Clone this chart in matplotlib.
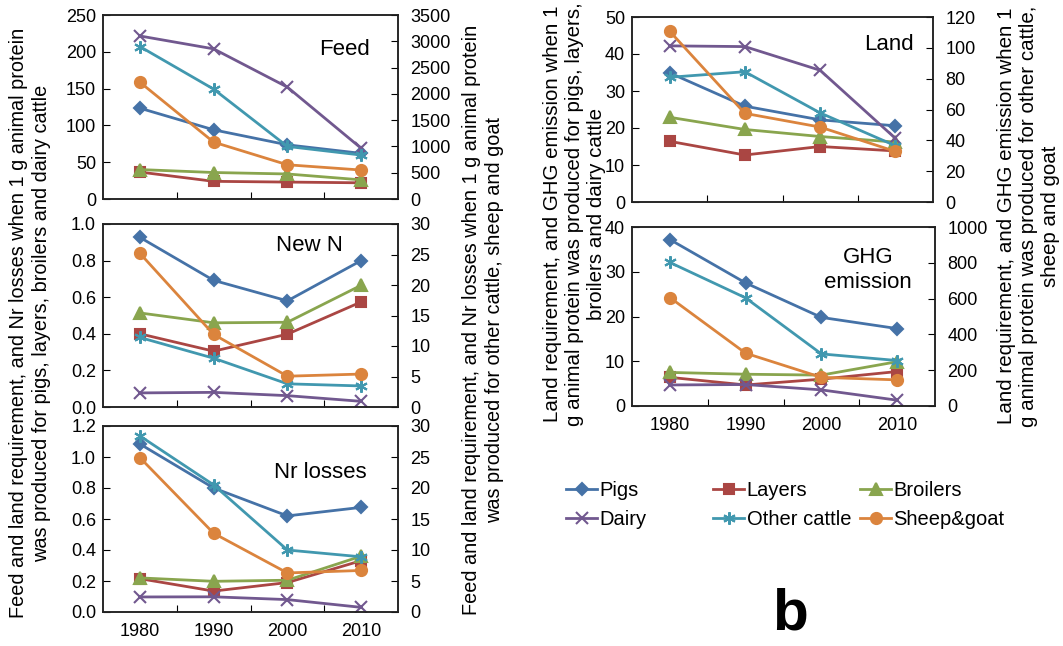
import matplotlib
matplotlib.use("Agg")
import matplotlib.pyplot as plt

plt.rcParams['font.family'] = ['Liberation Sans', 'DejaVu Sans']

years = ['1980', '1990', '2000', '2010']

# left-axis series: pigs, layers, broilers, dairy; right-axis: other cattle, sheep&goat
feed_pigs = [123.4, 94, 73.6, 62]
feed_layers = [36.6, 24, 23, 22]
feed_broilers = [40, 36, 34, 26]
feed_dairy = [221.5, 204, 152, 69]
feed_cattle = [2900, 2090, 1000, 836]
feed_sheep = [2222, 1082, 651, 551]

newn_pigs = [0.927, 0.692, 0.58, 0.80]
newn_layers = [0.40, 0.305, 0.398, 0.574]
newn_broilers = [0.514, 0.46, 0.463, 0.665]
newn_dairy = [0.077, 0.08, 0.062, 0.031]
newn_cattle = [11.4, 8.0, 3.8, 3.45]
newn_sheep = [25.2, 11.9, 5.05, 5.4]

nr_pigs = [1.084, 0.80, 0.62, 0.675]
nr_layers = [0.215, 0.135, 0.19, 0.331]
nr_broilers = [0.22, 0.198, 0.205, 0.36]
nr_dairy = [0.097, 0.098, 0.08, 0.03]
nr_cattle = [28.4, 20.5, 10.0, 8.9]
nr_sheep = [24.9, 12.7, 6.3, 6.7]

land_pigs = [34.9, 25.9, 22.2, 20.6]
land_layers = [16.4, 12.7, 15.0, 13.8]
land_broilers = [22.9, 19.6, 17.7, 16.2]
land_dairy = [42.2, 42.0, 35.6, 17.2]
land_cattle = [80.9, 84.5, 57.8, 36.5]
land_sheep = [110.8, 57.5, 48.6, 32.8]

ghg_pigs = [37.2, 27.5, 19.8, 17.3]
ghg_layers = [6.4, 4.7, 6.0, 7.7]
ghg_broilers = [7.5, 7.1, 6.9, 9.9]
ghg_dairy = [4.7, 4.8, 3.6, 1.3]
ghg_cattle = [802, 604, 291, 254]
ghg_sheep = [606, 295, 160, 146]

names = ['Pigs', 'Layers', 'Broilers', 'Dairy', 'Other cattle', 'Sheep&goat']
colors = ['#4572A7', '#AA4643', '#89A54E', '#71588F', '#4198AF', '#DB843D']
markers = ['D', 's', '^', 'x', (6, 2, 0), 'o']
msizes = [6, 7, 8, 8, 9, 8]

W, H = 1063, 646
fig = plt.figure(figsize=(W / 100, H / 100), dpi=100)


def make_panel(box, left_data, right_data, ylim1, yticks1, ylim2, yticks2,
               label, label_xy, fmt1='%g', show_x=False):
    ax = fig.add_axes(box)
    ax2 = ax.twinx()
    x = range(len(years))
    handles = []
    for i, d in enumerate(left_data):
        h, = ax.plot(x, d, color=colors[i], marker=markers[i], ms=msizes[i],
                     lw=2, mew=1.5, label=names[i])
        handles.append(h)
    for j, d in enumerate(right_data):
        i = j + 4
        h, = ax2.plot(x, d, color=colors[i], marker=markers[i], ms=msizes[i],
                      lw=2, mew=1.5, label=names[i])
        handles.append(h)
    ax.set_xlim(-0.5, 3.5)
    ax.set_ylim(*ylim1)
    ax.set_yticks(yticks1)
    ax.set_yticklabels([fmt1 % v for v in yticks1])
    ax2.set_ylim(*ylim2)
    ax2.set_yticks(yticks2)
    ax.set_xticks([0.5, 1.5, 2.5])
    ax.set_xticklabels([])
    ax.set_xticks(range(4), minor=True)
    ax.set_xticklabels(years if show_x else [], minor=True)
    ax.tick_params(axis='x', which='minor', length=0, labelsize=13, pad=8)
    ax.tick_params(axis='x', which='major', direction='in', length=5)
    ax.tick_params(axis='y', direction='in', length=5, labelsize=13, pad=5)
    ax2.tick_params(axis='y', direction='in', length=5, labelsize=13, pad=9)
    for a in (ax, ax2):
        for s in a.spines.values():
            s.set_color('#222222')
            s.set_linewidth(1.1)
    ax.text(label_xy[0], label_xy[1], label, transform=ax.transAxes,
            ha='center', va='center', fontsize=16, linespacing=1.25)
    return ax, handles


def fbox(x0, y0, x1, y1):
    return [x0 / W, 1 - y1 / H, (x1 - x0) / W, (y1 - y0) / H]


make_panel(fbox(103, 15, 398, 199),
           [feed_pigs, feed_layers, feed_broilers, feed_dairy],
           [feed_cattle, feed_sheep],
           (0, 250), [0, 50, 100, 150, 200, 250],
           (0, 3500), [0, 500, 1000, 1500, 2000, 2500, 3000, 3500],
           'Feed', (0.82, 0.81))

make_panel(fbox(103, 224, 398, 407),
           [newn_pigs, newn_layers, newn_broilers, newn_dairy],
           [newn_cattle, newn_sheep],
           (0, 1.0), [0, 0.2, 0.4, 0.6, 0.8, 1.0],
           (0, 30), [0, 5, 10, 15, 20, 25, 30],
           'New N', (0.70, 0.885), fmt1='%.1f')

make_panel(fbox(103, 426, 398, 612),
           [nr_pigs, nr_layers, nr_broilers, nr_dairy],
           [nr_cattle, nr_sheep],
           (0, 1.2), [0, 0.2, 0.4, 0.6, 0.8, 1.0, 1.2],
           (0, 30), [0, 5, 10, 15, 20, 25, 30],
           'Nr losses', (0.735, 0.75), fmt1='%.1f', show_x=True)

make_panel(fbox(632, 17, 933, 202),
           [land_pigs, land_layers, land_broilers, land_dairy],
           [land_cattle, land_sheep],
           (0, 50), [0, 10, 20, 30, 40, 50],
           (0, 120), [0, 20, 40, 60, 80, 100, 120],
           'Land', (0.855, 0.85))

ax_g, handles = make_panel(fbox(632, 227, 935, 406),
                           [ghg_pigs, ghg_layers, ghg_broilers, ghg_dairy],
                           [ghg_cattle, ghg_sheep],
                           (0, 40), [0, 10, 20, 30, 40],
                           (0, 1000), [0, 200, 400, 600, 800, 1000],
                           'GHG\nemission', (0.78, 0.76), show_x=True)

# legend: three fixed-width columns like the original
for col, xpix in enumerate([566, 713, 860]):
    idx = [col, col + 3]
    fig.legend([handles[k] for k in idx], [names[k] for k in idx],
               loc='center left', bbox_to_anchor=(xpix / W, 1 - 505 / H),
               frameon=False, fontsize=14.5, handlelength=1.55,
               handletextpad=0.12, labelspacing=0.5, borderpad=0,
               borderaxespad=0)

# axis titles
fig.text(30 / W, 1 - 323 / H,
         'Feed and land requirement, and Nr losses when 1 g animal protein\n'
         'was produced for pigs, layers, broilers and dairy cattle',
         rotation=90, ha='center', va='center', fontsize=14.3, linespacing=1.25)
fig.text(483 / W, 1 - 320 / H,
         'Feed and land requirement, and Nr losses when 1 g animal protein\n'
         'was produced for other cattle, sheep and goat',
         rotation=90, ha='center', va='center', fontsize=14.3, linespacing=1.25)
fig.text(574 / W, 1 - 214 / H,
         'Land requirement, and GHG emission when 1\n'
         'g animal protein was produced for pigs, layers,\n'
         'broilers and dairy cattle',
         rotation=90, ha='center', va='center', fontsize=14.8, linespacing=1.2)
fig.text(1028 / W, 1 - 216 / H,
         'Land requirement, and GHG emission when 1\n'
         'g animal protein was produced for other cattle,\n'
         'sheep and goat',
         rotation=90, ha='center', va='center', fontsize=14.8, linespacing=1.2)

fig.text(790 / W, 1 - 615 / H, 'b', ha='center', va='center',
         fontsize=42, fontweight='bold')

fig.savefig('out.png', dpi=100)
